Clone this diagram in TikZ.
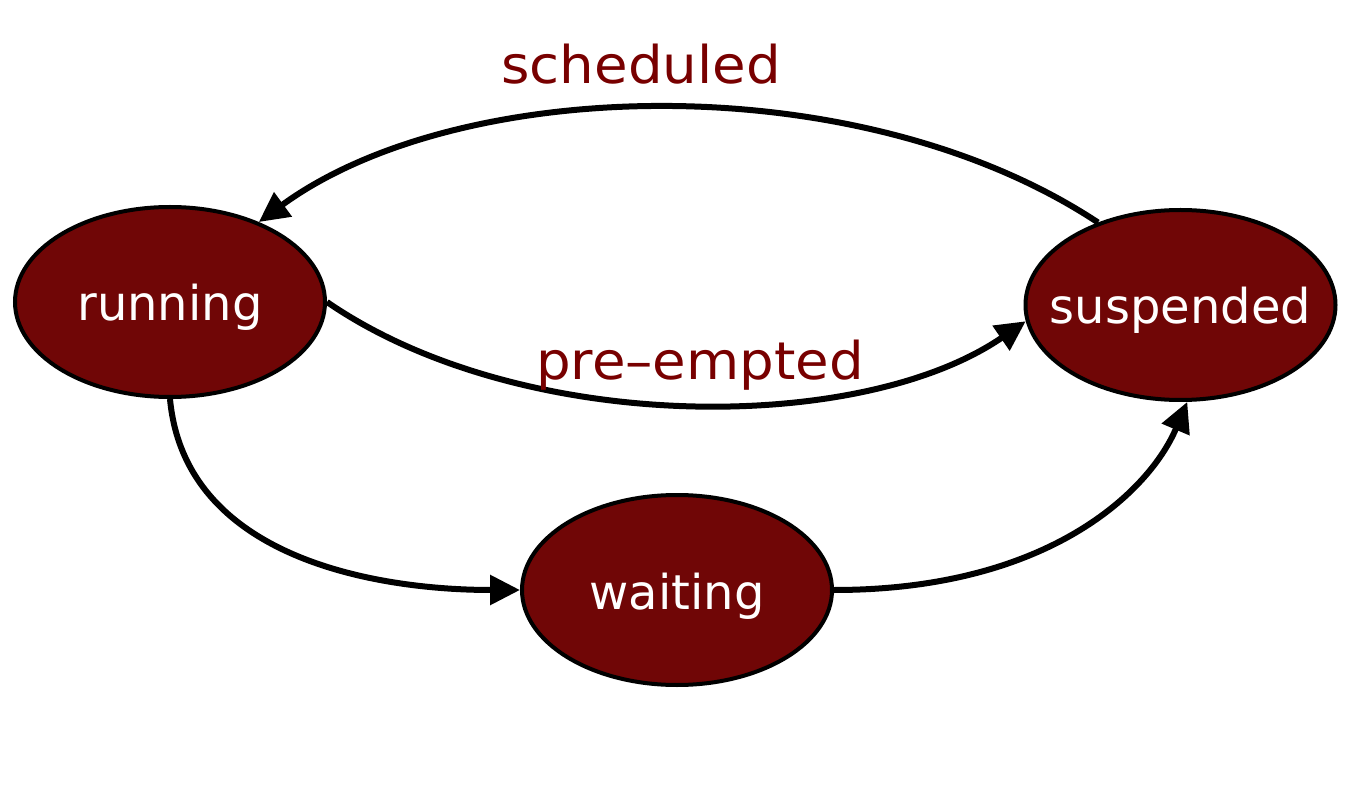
\documentclass[tikz,border=0pt]{standalone}
\usepackage{fontspec}
\setmainfont{DejaVu Sans}
\newfontfamily\lblfont[FakeStretch=1.05]{DejaVu Sans}
\usetikzlibrary{shapes.geometric,arrows.meta}
\definecolor{statefill}{RGB}{112,6,6}
\definecolor{lblcolor}{RGB}{120,0,0}
\newcommand{\stxt}[1]{\makebox[0pt]{#1}}
\tikzset{
  state/.style={ellipse, draw=black, line width=4pt, fill=statefill,
    minimum width=310pt, minimum height=190pt, inner sep=0pt,
    text=white, font=\fontsize{48}{50}\selectfont,
    text height=38pt, text depth=0pt},
  conn/.style={line width=6pt, -{Triangle[length=30pt,width=29pt]}},
  lbl/.style={text=lblcolor, font=\lblfont\fontsize{52}{56}\selectfont, anchor=base, inner sep=0pt}
}
\begin{document}
\begin{tikzpicture}[x=1pt,y=-1pt]
\useasboundingbox (0,0) rectangle (1352,791);
\node[state] (run) at (170,302) {\stxt{running}};
\node[state] (susp) at (1180.5,305) {\stxt{suspended}};
\node[state] (wait) at (677,590) {\stxt{waiting}};
\draw[conn] (susp.135) .. controls (860,65) and (460,75) .. (run.42);
\draw[conn] (run.east) .. controls (520,435) and (860,435) .. (susp.186);
\draw[conn] (run.south) .. controls (185,560) and (380,590) .. (wait.west);
\draw[conn] (wait.east) .. controls (1050,590) and (1150,490) .. (susp.-86);
\node[lbl] (lsched) at (641,84) {scheduled};
\node[lbl] (lpre) at (700,380) {pre–empted};
\end{tikzpicture}
\end{document}
